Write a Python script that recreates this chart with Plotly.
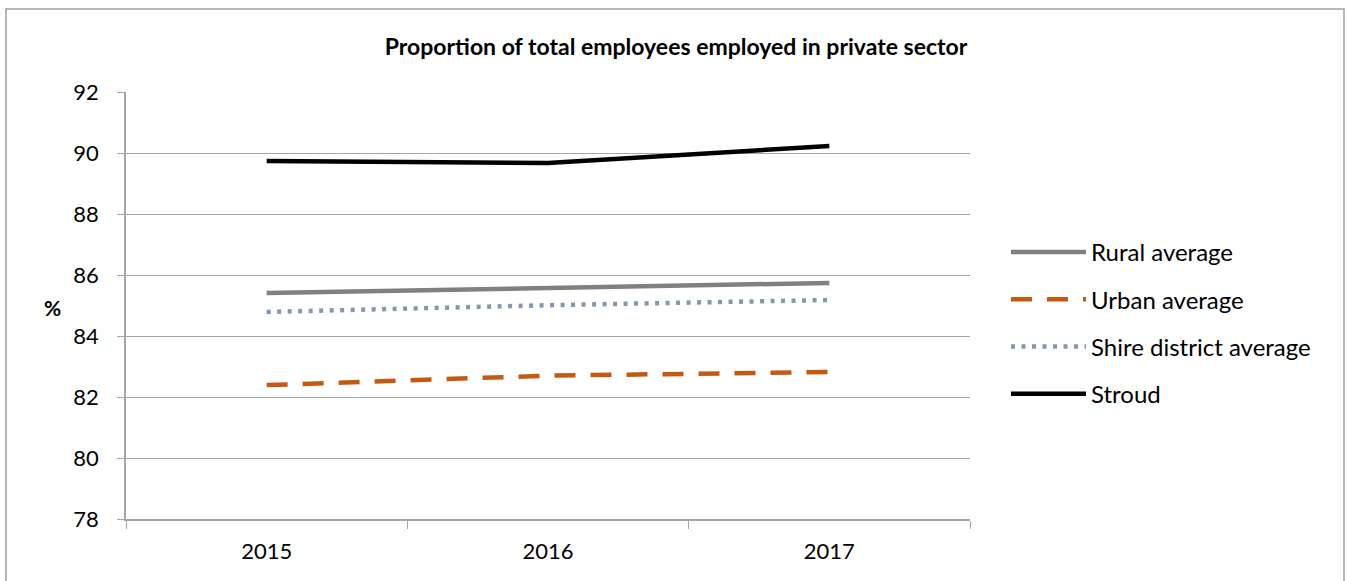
import plotly.graph_objects as go

years = ["2015", "2016", "2017"]
rural = [85.41, 85.57, 85.74]
urban = [82.39, 82.70, 82.82]
shire = [84.79, 85.01, 85.18]
stroud = [89.74, 89.67, 90.23]
y_ticks = [78, 80, 82, 84, 86, 88, 90, 92]

FONT = "Lato"
W, H = 1348, 581
ML, MR, MT, MB = 126, 378, 92, 62
PW, PH = W - ML - MR, H - MT - MB

fig = go.Figure()
series = [
    ("Rural average", rural, dict(color="#808080", width=4.5, dash="solid")),
    ("Urban average", urban, dict(color="#C65911", width=4.5, dash="21px,15px")),
    ("Shire district average", shire, dict(color="#8497B0", width=4.5, dash="4px,6.5px")),
    ("Stroud", stroud, dict(color="#000000", width=4.5, dash="solid")),
]
for i, (name, vals, line) in enumerate(series):
    fig.add_trace(go.Scatter(x=years, y=vals, name=name, mode="lines", line=line,
                             legendgroup=f"g{i}"))

fig.update_layout(
    width=W, height=H,
    paper_bgcolor="white", plot_bgcolor="white",
    margin=dict(l=ML, r=MR, t=MT, b=MB),
    font=dict(family=FONT, size=20, color="#000000"),
    title=dict(text="<b>Proportion of total employees employed in private sector</b>",
               x=676 / W, xanchor="center", y=1 - 47 / H, yanchor="middle",
               font=dict(family=FONT, size=23, color="#000000")),
    showlegend=True,
    legend=dict(x=(1006 - ML) / PW, xanchor="left",
                y=(H - MB - 323) / PH, yanchor="middle",
                font=dict(family=FONT, size=24, color="#000000"),
                itemwidth=75,
                tracegroupgap=13, bgcolor="rgba(0,0,0,0)"),
    xaxis=dict(type="category", showgrid=False, showline=True, linecolor="#A6A6A6", linewidth=1.5,
               ticks="outside", tickson="boundaries", ticklen=8, tickcolor="#A6A6A6",
               ticklabelstandoff=12,
               tickfont=dict(family=FONT, size=22), range=[-0.5, 2.5], fixedrange=True),
    yaxis=dict(range=[78, 92], tickvals=y_ticks, showgrid=True, gridcolor="#A6A6A6", gridwidth=1.3,
               showline=True, linecolor="#A6A6A6", linewidth=1.5, ticks="outside", ticklen=7,
               tickcolor="#A6A6A6", ticklabelstandoff=14, tickfont=dict(family=FONT, size=22),
               zeroline=False),
)

fig.add_annotation(text="<b>%</b>", x=(52 - ML) / PW, y=(H - MB - 307) / PH,
                   xref="paper", yref="paper", xanchor="center", yanchor="middle",
                   showarrow=False, font=dict(family=FONT, size=21))

fig.add_shape(type="rect", xref="paper", yref="paper",
              x0=(6 - ML) / PW, x1=(1344 - ML) / PW,
              y0=(H - MB - 600) / PH, y1=(H - MB - 9) / PH,
              line=dict(color="#A0A0A0", width=1.5), layer="below")

fig.write_html("out.html", config={"displayModeBar": False},
               post_script="document.body.style.margin='0';")
